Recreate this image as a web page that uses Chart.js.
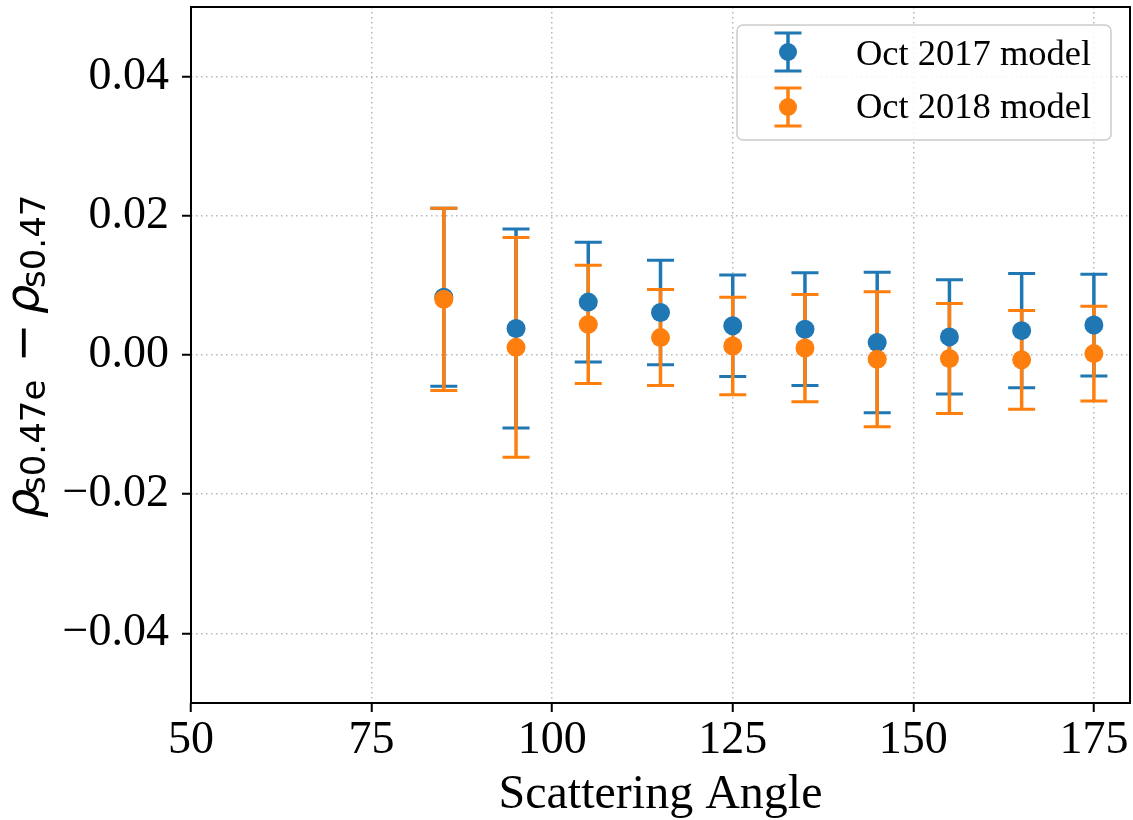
<!DOCTYPE html>
<html>
<head>
<meta charset="utf-8">
<script src="https://cdn.jsdelivr.net/npm/chart.js@4/dist/chart.umd.min.js"></script>
<style>
  html, body { margin: 0; padding: 0; background: #fff; }
  #wrap { width: 1133px; height: 820px; }
</style>
</head>
<body>
<div id="wrap"><canvas id="c" width="1133" height="820"></canvas></div>
<script>
// Scattering angle bins (degrees)
const angles = [85, 95, 105, 115, 125, 135, 145, 155, 165, 175];

// Mean difference and symmetric error for each model
const model2017 = [0.0083, 0.0038, 0.0076, 0.0061, 0.0042, 0.0037, 0.0018, 0.0026, 0.0035, 0.0043];
const err2017   = [0.0128, 0.0143, 0.0086, 0.0075, 0.0073, 0.0081, 0.0101, 0.0082, 0.0082, 0.0073];
const model2018 = [0.0080, 0.0011, 0.0044, 0.0025, 0.0013, 0.0010, -0.0006, -0.0005, -0.0007, 0.0002];
const err2018   = [0.0131, 0.0158, 0.0085, 0.0069, 0.0070, 0.0077, 0.0097, 0.0079, 0.0071, 0.0068];

const seriesNames = ['Oct 2017 model', 'Oct 2018 model'];
const seriesColors = ['#1f77b4', '#ff7f0e'];

// Axis ticks
const xTicks = [50, 75, 100, 125, 150, 175];
const yTicks = [-0.04, -0.02, 0.00, 0.02, 0.04];

const SERIF = "'Liberation Serif', 'Times New Roman', serif";
const MATH = "'DejaVu Sans', sans-serif";

const fmtY = v => (v < 0 ? '\u2212' : '') + Math.abs(v).toFixed(2);

const toPoints = (xs, ys) => xs.map((x, i) => ({ x: x, y: ys[i] }));

const errorSets = [
  { values: model2017, errors: err2017, color: seriesColors[0] },
  { values: model2018, errors: err2018, color: seriesColors[1] }
];

// Vertical error bars with caps, drawn beneath the markers
const errorBars = {
  id: 'errorBars',
  beforeDatasetsDraw(chart) {
    const { ctx, scales: { x, y } } = chart;
    const capHalf = 13.5;
    errorSets.forEach(set => {
      ctx.save();
      ctx.strokeStyle = set.color;
      angles.forEach((a, i) => {
        const px = x.getPixelForValue(a);
        const top = y.getPixelForValue(set.values[i] + set.errors[i]);
        const bot = y.getPixelForValue(set.values[i] - set.errors[i]);
        ctx.lineWidth = 3.5;
        ctx.beginPath();
        ctx.moveTo(px, top);
        ctx.lineTo(px, bot);
        ctx.stroke();
        ctx.lineWidth = 3;
        ctx.beginPath();
        ctx.moveTo(px - capHalf, top);
        ctx.lineTo(px + capHalf, top);
        ctx.moveTo(px - capHalf, bot);
        ctx.lineTo(px + capHalf, bot);
        ctx.stroke();
      });
      ctx.restore();
    });
  }
};

// Frame, rotated y-axis label and legend
const decorations = {
  id: 'decorations',
  afterDraw(chart) {
    const { ctx, chartArea: a } = chart;

    // axes frame
    ctx.save();
    ctx.strokeStyle = '#000';
    ctx.lineWidth = 2;
    ctx.strokeRect(a.left, a.top, a.right - a.left, a.bottom - a.top);
    ctx.restore();

    // y-axis label: rho_{s0.47e} - rho_{s0.47}
    ctx.save();
    ctx.translate(38, 355);
    ctx.rotate(-Math.PI / 2);
    ctx.fillStyle = '#000';
    ctx.textBaseline = 'alphabetic';
    ctx.textAlign = 'left';
    ctx.font = 'italic 46px ' + MATH;
    ctx.fillText('\u03C1', -163, 0);
    ctx.font = '34px ' + MATH;
    ctx.fillText('s0.47e', -139, 7);
    ctx.font = '46px ' + MATH;
    ctx.textAlign = 'center';
    ctx.fillText('\u2212', 12, 0);
    ctx.textAlign = 'left';
    ctx.font = 'italic 46px ' + MATH;
    ctx.fillText('\u03C1', 41, 0);
    ctx.font = '34px ' + MATH;
    ctx.fillText('s0.47', 67, 7);
    ctx.restore();

    // legend
    ctx.save();
    const bx = 737, by = 25, bw = 374, bh = 115, r = 6;
    ctx.beginPath();
    ctx.moveTo(bx + r, by);
    ctx.arcTo(bx + bw, by, bx + bw, by + bh, r);
    ctx.arcTo(bx + bw, by + bh, bx, by + bh, r);
    ctx.arcTo(bx, by + bh, bx, by, r);
    ctx.arcTo(bx, by, bx + bw, by, r);
    ctx.closePath();
    ctx.fillStyle = 'rgba(255,255,255,0.85)';
    ctx.fill();
    ctx.strokeStyle = '#cccccc';
    ctx.lineWidth = 1.5;
    ctx.stroke();

    const rows = [52, 107];
    const textRows = [55, 108];
    seriesNames.forEach((name, i) => {
      const cx = 788, cy = rows[i], half = 19, cap = 13.5;
      ctx.strokeStyle = seriesColors[i];
      ctx.lineWidth = 3.5;
      ctx.beginPath();
      ctx.moveTo(cx, cy - half);
      ctx.lineTo(cx, cy + half);
      ctx.stroke();
      ctx.lineWidth = 3;
      ctx.beginPath();
      ctx.moveTo(cx - cap, cy - half);
      ctx.lineTo(cx + cap, cy - half);
      ctx.moveTo(cx - cap, cy + half);
      ctx.lineTo(cx + cap, cy + half);
      ctx.stroke();
      ctx.fillStyle = seriesColors[i];
      ctx.beginPath();
      ctx.arc(cx, cy, 9, 0, Math.PI * 2);
      ctx.fill();
      ctx.fillStyle = '#000';
      ctx.font = '36.5px ' + SERIF;
      ctx.textAlign = 'left';
      ctx.textBaseline = 'middle';
      ctx.fillText(name, 856, textRows[i]);
    });
    ctx.restore();
  }
};

const gridStyle = {
  color: 'rgba(170,170,170,0.85)',
  lineWidth: 1.5,
  tickColor: '#000',
  tickWidth: 2,
  tickLength: 9,
  tickBorderDash: []
};

new Chart(document.getElementById('c'), {
  type: 'scatter',
  data: {
    datasets: [
      {
        label: seriesNames[0],
        data: toPoints(angles, model2017),
        backgroundColor: seriesColors[0],
        pointBackgroundColor: seriesColors[0],
        pointRadius: 9.5,
        pointBorderWidth: 0,
        showLine: false,
        order: 1
      },
      {
        label: seriesNames[1],
        data: toPoints(angles, model2018),
        backgroundColor: seriesColors[1],
        pointBackgroundColor: seriesColors[1],
        pointRadius: 9.5,
        pointBorderWidth: 0,
        showLine: false,
        order: 0
      }
    ]
  },
  options: {
    responsive: false,
    animation: false,
    layout: { autoPadding: false, padding: { top: 7, right: 3, left: 0, bottom: 0 } },
    plugins: {
      legend: { display: false },
      tooltip: { enabled: false }
    },
    scales: {
      x: {
        type: 'linear',
        min: 50,
        max: 180,
        afterBuildTicks: s => { s.ticks = xTicks.map(v => ({ value: v })); },
        afterFit: s => { s.height = 117; s.paddingLeft = 0; s.paddingRight = 0; },
        ticks: {
          font: { family: SERIF, size: 46, lineHeight: 1.2 },
          color: '#000',
          padding: 1,
          maxRotation: 0,
          autoSkip: false,
          callback: v => String(v)
        },
        grid: gridStyle,
        border: { display: false, dash: [1.5, 3.5] },
        title: {
          display: true,
          text: 'Scattering Angle',
          color: '#000',
          font: { family: SERIF, size: 48, lineHeight: 1 },
          padding: { top: 0, bottom: 1 }
        }
      },
      y: {
        type: 'linear',
        min: -0.05,
        max: 0.05,
        afterBuildTicks: s => { s.ticks = yTicks.map(v => ({ value: v })); },
        afterFit: s => { s.width = 191; s.paddingTop = 0; s.paddingBottom = 0; },
        ticks: {
          font: { family: SERIF, size: 46, lineHeight: 1.2 },
          color: '#000',
          padding: 13,
          autoSkip: false,
          callback: v => fmtY(v)
        },
        grid: gridStyle,
        border: { display: false, dash: [1.5, 3.5] }
      }
    }
  },
  plugins: [errorBars, decorations]
});
</script>
</body>
</html>
